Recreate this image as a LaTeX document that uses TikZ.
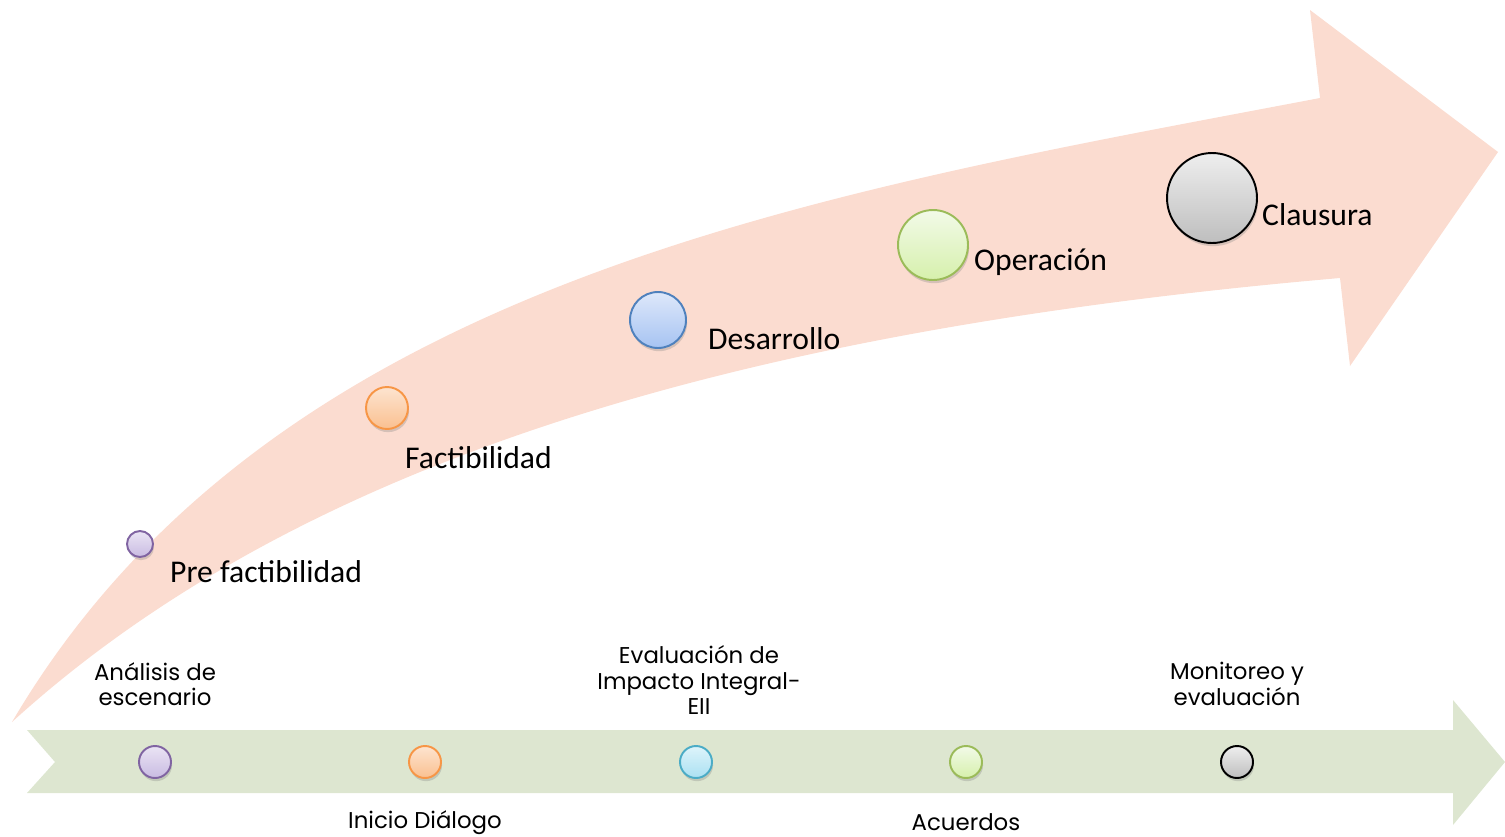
\documentclass[tikz,border=0pt]{standalone}
\usepackage{fontspec}
\setmainfont{Carlito}
\newfontfamily\gothic{Poppins}
\usetikzlibrary{positioning,shadows}

\definecolor{peach}{HTML}{FBDCD0}
\definecolor{sage}{HTML}{DDE6D0}
\definecolor{lilaborde}{HTML}{8064A2}
\definecolor{naranjaborde}{HTML}{F79646}
\definecolor{azulborde}{HTML}{4F81BD}
\definecolor{celesteborde}{HTML}{4BACC6}
\definecolor{verdeborde}{HTML}{9BBB59}

\begin{document}
\begin{tikzpicture}[x=0.02cm, y=-0.02cm,
  dot/.style = {draw, circle, line width=1.1pt, inner sep=0pt,
    drop shadow={shadow xshift=0.6pt, shadow yshift=-1.8pt, opacity=0.3}},
  lila/.style = {dot, draw=lilaborde, top color={rgb,255:red,234;green,228;blue,244}, bottom color={rgb,255:red,201;green,187;blue,226}},
  naranja/.style = {dot, draw=naranjaborde, top color={rgb,255:red,253;green,228;blue,208}, bottom color={rgb,255:red,250;green,192;blue,144}},
  azul/.style = {dot, draw=azulborde, top color={rgb,255:red,222;green,232;blue,250}, bottom color={rgb,255:red,166;green,195;blue,242}},
  celeste/.style = {dot, draw=celesteborde, top color={rgb,255:red,222;green,244;blue,251}, bottom color={rgb,255:red,170;green,224;blue,242}},
  verde/.style = {dot, draw=verdeborde, top color={rgb,255:red,242;green,250;blue,232}, bottom color={rgb,255:red,214;green,240;blue,172}},
  gris/.style = {dot, draw=black, top color={rgb,255:red,238;green,238;blue,238}, bottom color={rgb,255:red,190;green,190;blue,190}},
  fase/.style = {anchor=west, font=\fontsize{18}{22}\selectfont},
  hito/.style = {align=center, font=\gothic\fontsize{13}{14.5}\selectfont}]
  \useasboundingbox (0,0) rectangle (1505,836);

  % arrows
  \fill[peach] (12,722) .. controls (272,280) and (820,193) .. (1320,98) -- (1310,10)
    -- (1498,152) -- (1350,366) -- (1340,278) .. controls (740,330) and (300,460) .. (12,722) -- cycle;
  \fill[sage] (27,730) -- (1453,730) -- (1453,700) -- (1505,762) -- (1453,825)
    -- (1453,793) -- (27,793) -- (55,762) -- cycle;

  % phases
  \node[lila, minimum size=0.52cm] (pre) at (140,544) {};
  \node[naranja, minimum size=0.84cm] (fac) at (387,408) {};
  \node[azul, minimum size=1.12cm] (des) at (658,320) {};
  \node[verde, minimum size=1.4cm] (ope) at (933,245) {};
  \node[gris, minimum size=1.8cm] (cla) at (1212,198) {};

  \node[fase] (prelab) at (164,572) {Pre factibilidad};
  \node[fase] (faclab) at (399,458) {Factibilidad};
  \node[fase] (deslab) at (702,339) {Desarrollo};
  \node[fase] (opelab) at (968,262) {Operación};
  \node[fase] (clalab) at (1256,215) {Clausura};

  % milestones
  \node[lila, minimum size=0.64cm] (ana) at (155,762) {};
  \node[naranja, minimum size=0.64cm] (ini) at (425,762) {};
  \node[celeste, minimum size=0.64cm] (eva) at (696,762) {};
  \node[verde, minimum size=0.64cm] (acu) at (966,762) {};
  \node[gris, minimum size=0.64cm] (mon) at (1237,762) {};

  \node[hito] (analab) at (155,684) {Análisis de\\escenario};
  \node[hito] (inilab) at (425,823) {Inicio Diálogo};
  \node[hito] (evalab) at (699,680) {Evaluación de\\Impacto Integral-\\EII};
  \node[hito] (aculab) at (966,822) {Acuerdos};
  \node[hito] (monlab) at (1237,684) {Monitoreo y\\evaluación};
\end{tikzpicture}
\end{document}
